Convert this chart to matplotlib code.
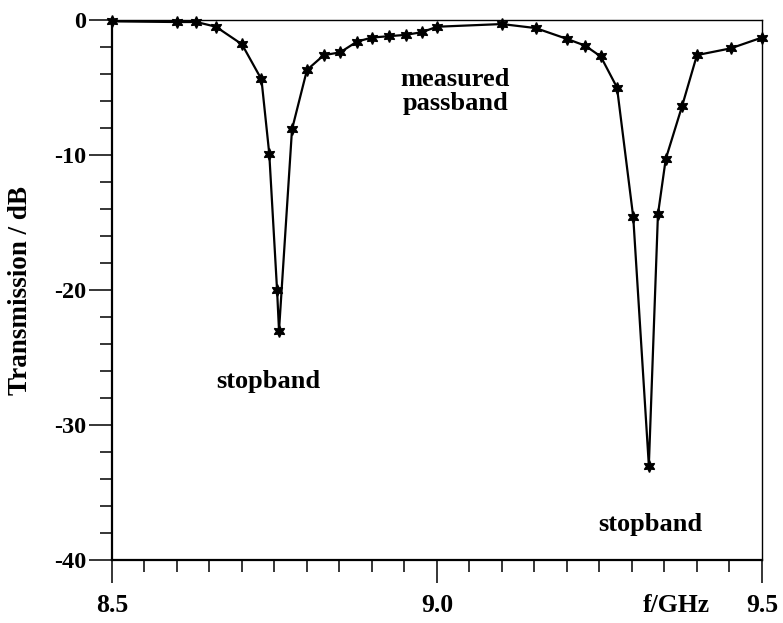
import matplotlib
matplotlib.use("Agg")
import matplotlib.pyplot as plt
from matplotlib.ticker import MultipleLocator
import matplotlib.transforms as mtransforms

# ── Data ─────────────────────────────────────────────────────────────────────
freq_ghz = [8.50, 8.60, 8.63, 8.66, 8.70, 8.73, 8.742, 8.754, 8.757, 8.777,
            8.80, 8.826, 8.851, 8.877, 8.90, 8.926, 8.952, 8.977, 9.00, 9.10,
            9.152, 9.20, 9.228, 9.252, 9.277, 9.302, 9.326, 9.34, 9.352, 9.377,
            9.40, 9.452, 9.50]
trans_db = [-0.1, -0.15, -0.15, -0.5, -1.8, -4.4, -9.9, -20.0, -23.0, -8.1,
            -3.7, -2.6, -2.4, -1.6, -1.3, -1.2, -1.1, -0.9, -0.5, -0.3,
            -0.6, -1.4, -1.9, -2.7, -5.0, -14.6, -33.0, -14.4, -10.3, -6.4,
            -2.6, -2.1, -1.3]

x_ticks = [8.5, 9.0, 9.5]
x_tick_labels = ["8.5", "9.0", "9.5"]
y_ticks = [0, -10, -20, -30, -40]
y_tick_labels = ["0", "-10", "-20", "-30", "-40"]

annotations = [
    ("measured\npassband", 9.028, -5.3),
    ("stopband", 8.74, -26.8),
    ("stopband", 9.328, -37.4),
]

# ── Figure ───────────────────────────────────────────────────────────────────
plt.rcParams["font.family"] = ["Liberation Serif", "DejaVu Serif"]
plt.rcParams["font.weight"] = "bold"

fig = plt.figure(figsize=(7.83, 6.23), dpi=100)
ax = fig.add_axes([0.1430, 0.1011, 0.8301, 0.8668])

ax.plot(freq_ghz, trans_db, color="black", linewidth=1.6,
        marker=(6, 1, 0), markersize=8.5, clip_on=False, zorder=3)

ax.set_xlim(8.5, 9.5)
ax.set_ylim(-40, 0)

ax.set_xticks(x_ticks)
ax.set_xticklabels(x_tick_labels, fontsize=18.5, fontweight="bold")
ax.set_yticks(y_ticks)
ax.set_yticklabels(y_tick_labels, fontsize=17.5, fontweight="bold")
ax.xaxis.set_minor_locator(MultipleLocator(0.05))
ax.yaxis.set_minor_locator(MultipleLocator(2))

ax.tick_params(axis="both", which="major", direction="out", length=16.5,
               width=1.1, color="black")
ax.tick_params(axis="both", which="minor", direction="out", length=8.5,
               width=1.1, color="black")
ax.tick_params(axis="x", which="major", pad=8)
ax.tick_params(axis="y", which="major", pad=2)

for side in ["left", "bottom"]:
    ax.spines[side].set_linewidth(1.6)
for side in ["top", "right"]:
    ax.spines[side].set_linewidth(1.0)

ax.set_ylabel("Transmission / dB", fontsize=19.5, fontweight="bold")
ax.yaxis.set_label_coords(-0.122, 0.5)

trans = mtransforms.blended_transform_factory(ax.transData, ax.transAxes)
ax.text(9.368, -0.085, "f/GHz", transform=trans, fontsize=18.5,
        fontweight="bold", ha="center", va="center")

for txt, x, y in annotations:
    ax.text(x, y, txt, fontsize=19, fontweight="bold", ha="center",
            va="center", linespacing=1.05)

fig.savefig("out.png", dpi=100)
